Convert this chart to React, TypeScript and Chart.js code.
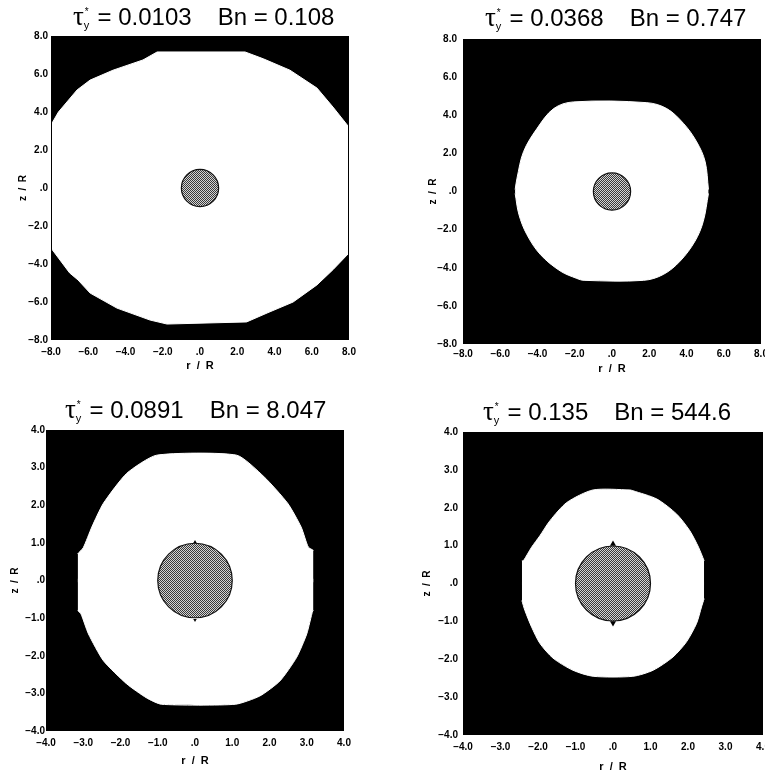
import React, { useEffect, useRef } from "react";
import { Chart, registerables } from "chart.js";
Chart.register(...registerables);

// ---- titles ----
const tauLabels = ["0.0103", "0.0368", "0.0891", "0.135"];
const bnLabels = ["0.108", "0.747", "8.047", "544.6"];

// ---- axes ----
const axisTicks8 = [-8, -6, -4, -2, 0, 2, 4, 6, 8];
const axisTickLabels8 = ["\u22128.0", "\u22126.0", "\u22124.0", "\u22122.0", ".0", "2.0", "4.0", "6.0", "8.0"];
const axisTicks4 = [-4, -3, -2, -1, 0, 1, 2, 3, 4];
const axisTickLabels4 = ["\u22124.0", "\u22123.0", "\u22122.0", "\u22121.0", ".0", "1.0", "2.0", "3.0", "4.0"];
const xAxisTitle = "r  /  R";
const yAxisTitle = "z  /  R";

// sphere (r/R = 1) at origin
const sphereRadius = 1;
const sphereR = [0];
const sphereZ = [0];

// ---- panel 1: yielded region boundary ----
const p1UpperR = [-8, -7.6, -6.6, -5.9, -4.67, -3.06, -2.3, 2.42, 3.4, 4.83, 6.28, 7.14, 8];
const p1UpperZ = [3.32, 4.0, 5.16, 5.68, 6.2, 6.74, 7.16, 7.16, 6.8, 6.2, 5.26, 4.26, 3.2];
const p1LowerR = [-8, -7.0, -6.55, -5.9, -4.46, -2.68, -1.77, 2.5, 3.6, 5.0, 6.28, 7.14, 8];
const p1LowerZ = [-3.16, -4.47, -4.84, -5.53, -6.32, -6.95, -7.16, -7.05, -6.58, -6.0, -5.1, -4.3, -3.42];

// ---- panel 2 ----
const p2UpperR = [-5.2, -5.1, -4.75, -4.03, -3.13, -2.07, 1.87, 2.94, 3.84, 4.55, 5.0, 5.18];
const p2UpperZ = [0.1, 0.7, 2.09, 3.3, 4.35, 4.7, 4.66, 4.35, 3.57, 2.6, 1.57, 0.1];
const p2LowerR = [-5.2, -5.0, -4.57, -3.85, -2.78, -1.89, -1.5, 1.7, 2.76, 3.66, 4.46, 4.9, 5.18];
const p2LowerZ = [-0.1, -1.2, -2.26, -3.3, -4.17, -4.56, -4.66, -4.66, -4.35, -3.65, -2.6, -1.57, -0.1];

// ---- panel 3 ----
const p3UpperR = [-3.15, -3.0, -2.77, -2.46, -1.83, -1.03, 1.12, 1.86, 2.49, 2.85, 3.04, 3.18];
const p3UpperZ = [0.71, 0.87, 1.42, 2.05, 2.85, 3.33, 3.33, 2.75, 2.05, 1.42, 0.89, 0.8];
const p3LowerR = [-3.15, -3.06, -2.86, -2.46, -1.83, -1.3, -0.9, 1.08, 1.74, 2.28, 2.73, 3.0, 3.16, 3.18];
const p3LowerZ = [-0.8, -0.89, -1.42, -2.13, -2.75, -3.12, -3.29, -3.29, -3.07, -2.67, -2.04, -1.42, -0.8, -0.8];
const p3CuspR = [0, 0];
const p3CuspZ = [1.02, -1.05];

// ---- panel 4 ----
const p4UpperR = [-2.43, -2.39, -2.17, -1.95, -1.68, -1.23, -0.53, 0.45, 0.53, 1.17, 1.7, 2.05, 2.28, 2.43];
const p4UpperZ = [0.6, 0.6, 0.96, 1.26, 1.66, 2.14, 2.47, 2.47, 2.45, 2.23, 1.83, 1.39, 0.96, 0.6];
const p4LowerR = [-2.43, -2.35, -2.17, -1.95, -1.6, -1.07, -0.53, 0.53, 1.07, 1.6, 1.96, 2.23, 2.36, 2.43];
const p4LowerZ = [-0.45, -0.71, -1.15, -1.58, -1.97, -2.29, -2.45, -2.45, -2.29, -1.94, -1.54, -1.05, -0.62, -0.4];
const p4CuspR = [0, 0];
const p4CuspZ = [1.04, -1.04];

const FONT = '"Liberation Sans", Arial, Helvetica, sans-serif';

type Layout = {
  canvas: { left: number; top: number; width: number; height: number };
  area: { left: number; top: number; right: number; bottom: number };
  yTickPad: number;
  xTickPad: number;
  yTitlePad: number;
  xTitlePad: number;
  title: { left: number; top: number };
  cuspSize: number;
  tension: number;
};

const panels = [
  {
    tau: tauLabels[0], bn: bnLabels[0], ticks: axisTicks8, tickLabels: axisTickLabels8,
    upperR: p1UpperR, upperZ: p1UpperZ, lowerR: p1LowerR, lowerZ: p1LowerZ, cuspR: [] as number[], cuspZ: [] as number[],
    layout: {
      canvas: { left: 0, top: 26, width: 375, height: 353 },
      area: { left: 51, top: 36, right: 349, bottom: 340 },
      yTickPad: 3, xTickPad: 6, yTitlePad: 17, xTitlePad: 6, title: { left: 73, top: 4 }, cuspSize: 0, tension: 0,
    } as Layout,
  },
  {
    tau: tauLabels[1], bn: bnLabels[1], ticks: axisTicks8, tickLabels: axisTickLabels8,
    upperR: p2UpperR, upperZ: p2UpperZ, lowerR: p2LowerR, lowerZ: p2LowerZ, cuspR: [] as number[], cuspZ: [] as number[],
    layout: {
      canvas: { left: 400, top: 27, width: 390, height: 355 },
      area: { left: 463, top: 37, right: 761, bottom: 344 },
      yTickPad: 6, xTickPad: 4, yTitlePad: 27, xTitlePad: 6, title: { left: 485, top: 5 }, cuspSize: 0, tension: 0.35,
    } as Layout,
  },
  {
    tau: tauLabels[2], bn: bnLabels[2], ticks: axisTicks4, tickLabels: axisTickLabels4,
    upperR: p3UpperR, upperZ: p3UpperZ, lowerR: p3LowerR, lowerZ: p3LowerZ, cuspR: p3CuspR, cuspZ: p3CuspZ,
    layout: {
      canvas: { left: 0, top: 420, width: 375, height: 354 },
      area: { left: 46, top: 430, right: 344, bottom: 731 },
      yTickPad: 1, xTickPad: 6, yTitlePad: 9, xTitlePad: 6, title: { left: 65, top: 397 }, cuspSize: 2, tension: 0.2,
    } as Layout,
  },
  {
    tau: tauLabels[3], bn: bnLabels[3], ticks: axisTicks4, tickLabels: axisTickLabels4,
    upperR: p4UpperR, upperZ: p4UpperZ, lowerR: p4LowerR, lowerZ: p4LowerZ, cuspR: p4CuspR, cuspZ: p4CuspZ,
    layout: {
      canvas: { left: 400, top: 421, width: 390, height: 359 },
      area: { left: 463, top: 431, right: 763, bottom: 735 },
      yTickPad: 5, xTickPad: 6, yTitlePad: 21, xTitlePad: 6, title: { left: 483, top: 399 }, cuspSize: 3.5, tension: 0.25,
    } as Layout,
  },
];

const plotFramePlugin = {
  id: "plotFrame",
  beforeDatasetsDraw(chart: any) {
    const { ctx, chartArea: a } = chart;
    ctx.save();
    ctx.fillStyle = "#000";
    ctx.fillRect(a.left, a.top, a.right - a.left, a.bottom - a.top);
    ctx.restore();
  },
  afterDatasetsDraw(chart: any) {
    const { ctx, chartArea: a } = chart;
    ctx.save();
    ctx.strokeStyle = "#000";
    ctx.lineWidth = 1;
    ctx.strokeRect(a.left + 0.5, a.top + 0.5, a.right - a.left - 1, a.bottom - a.top - 1);
    ctx.restore();
  },
};

function Panel({ p }: { p: (typeof panels)[number] }) {
  const ref = useRef<HTMLCanvasElement>(null);
  const L = p.layout;
  useEffect(() => {
    const canvas = ref.current!;
    const pc = document.createElement("canvas");
    pc.width = 2;
    pc.height = 2;
    const pctx = pc.getContext("2d")!;
    pctx.fillStyle = "#d4d4d4";
    pctx.fillRect(0, 0, 2, 2);
    pctx.fillStyle = "#3a3a3a";
    pctx.fillRect(0, 0, 1, 1);
    pctx.fillRect(1, 1, 1, 1);
    const pattern = canvas.getContext("2d")!.createPattern(pc, "repeat");

    const toPts = (rs: number[], zs: number[]) => rs.map((r, i) => ({ x: r, y: zs[i] }));
    const min = p.ticks[0];
    const max = p.ticks[p.ticks.length - 1];
    const overlap = (max - min) * 0.006;
    const yWidth = L.area.left - L.canvas.left;
    const xHeight = L.canvas.top + L.canvas.height - L.area.bottom;
    const tickFont = { family: FONT, weight: "bold" as const, size: 10 };
    const titleFont = { family: FONT, weight: "bold" as const, size: 11 };
    const label = (v: any) => {
      const i = p.ticks.indexOf(Number(v));
      return i >= 0 ? p.tickLabels[i] : "";
    };

    const chart = new Chart(canvas, {
      type: "line",
      data: {
        datasets: [
          {
            label: "cusps",
            data: toPts(p.cuspR, p.cuspZ),
            showLine: false,
            pointStyle: "triangle",
            pointRadius: L.cuspSize,
            pointRotation: [0, 180],
            pointBackgroundColor: "#000",
            pointBorderColor: "#000",
            pointBorderWidth: 0,
          } as any,
          {
            label: "sphere",
            data: toPts(sphereR, sphereZ),
            showLine: false,
            pointStyle: "circle",
            pointRadius: (ctx: any) => {
              const xs = ctx.chart.scales.x;
              return Math.abs(xs.getPixelForValue(sphereRadius) - xs.getPixelForValue(0));
            },
            pointBackgroundColor: pattern,
            pointBorderColor: "#111",
            pointBorderWidth: 1.2,
          } as any,
          {
            label: "yielded upper",
            data: toPts(p.upperR, p.upperZ),
            borderColor: "#fff",
            borderWidth: 1,
            backgroundColor: "#fff",
            pointRadius: 0,
            tension: L.tension,
            fill: { value: -overlap },
          } as any,
          {
            label: "yielded lower",
            data: toPts(p.lowerR, p.lowerZ),
            borderColor: "#fff",
            borderWidth: 1,
            backgroundColor: "#fff",
            pointRadius: 0,
            tension: L.tension,
            fill: { value: overlap },
          } as any,
        ],
      },
      options: {
        responsive: false,
        animation: false,
        events: [],
        layout: {
          padding: {
            left: 0,
            top: L.area.top - L.canvas.top,
            right: L.canvas.left + L.canvas.width - L.area.right,
            bottom: 0,
          },
        },
        plugins: { legend: { display: false }, tooltip: { enabled: false } },
        scales: {
          x: {
            type: "linear",
            min,
            max,
            afterBuildTicks: (s: any) => {
              s.ticks = p.ticks.map((v) => ({ value: v }));
            },
            afterFit: (s: any) => {
              s.height = xHeight;
            },
            ticks: { callback: label, padding: L.xTickPad, color: "#000", font: tickFont, maxRotation: 0, autoSkip: false },
            grid: { display: false, drawTicks: false },
            border: { display: false },
            title: { display: true, text: xAxisTitle, color: "#000", font: titleFont, padding: { top: 0, bottom: L.xTitlePad } },
          },
          y: {
            type: "linear",
            min,
            max,
            afterBuildTicks: (s: any) => {
              s.ticks = p.ticks.map((v) => ({ value: v }));
            },
            afterFit: (s: any) => {
              s.width = yWidth;
            },
            ticks: { callback: label, padding: L.yTickPad, color: "#000", font: tickFont, autoSkip: false },
            grid: { display: false, drawTicks: false },
            border: { display: false },
            title: { display: true, text: yAxisTitle, color: "#000", font: tickFont, padding: { top: L.yTitlePad, bottom: 0 } },
          },
        },
      } as any,
      plugins: [plotFramePlugin],
    });
    return () => chart.destroy();
  }, []);

  return (
    <>
      <canvas
        ref={ref}
        width={L.canvas.width}
        height={L.canvas.height}
        style={{ position: "absolute", left: L.canvas.left, top: L.canvas.top, width: L.canvas.width, height: L.canvas.height }}
      />
      <div
        style={{
          position: "absolute",
          left: L.title.left,
          top: L.title.top,
          font: `24px ${FONT}`,
          lineHeight: "24px",
          whiteSpace: "pre",
          color: "#000",
        }}
      >
        <span style={{ fontFamily: '"Liberation Serif", "DejaVu Serif", serif', fontSize: 27 }}>τ</span>
        <span style={{ position: "relative", display: "inline-block", width: 7, height: 10 }}>
          <span style={{ position: "absolute", left: 1, top: -8, fontSize: 10, lineHeight: "10px" }}>*</span>
          <span style={{ position: "absolute", left: 0, top: 5, fontSize: 11, lineHeight: "11px" }}>y</span>
        </span>
        <span>{" = " + p.tau}</span>
        <span style={{ marginLeft: 26 }}>{"Bn = " + p.bn}</span>
      </div>
    </>
  );
}

export default function App() {
  return (
    <div style={{ position: "fixed", left: 0, top: 0, width: 765, height: 778, overflow: "hidden", background: "#fff" }}>
      {panels.map((p, i) => (
        <Panel key={i} p={p} />
      ))}
    </div>
  );
}
